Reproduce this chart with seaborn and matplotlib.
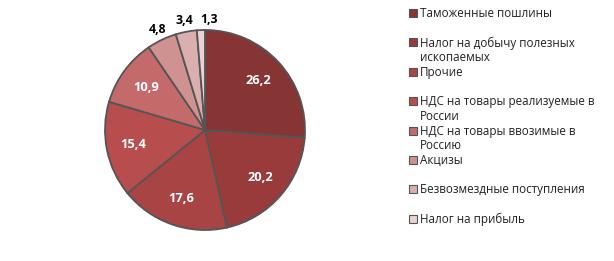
import numpy as np
import matplotlib
matplotlib.use('Agg')
import matplotlib.pyplot as plt
from matplotlib.patches import Rectangle
import seaborn as sns

categories = ['Таможенные пошлины', 'Налог на добычу полезных\nископаемых', 'Прочие',
              'НДС на товары реализуемые в\nРоссии', 'НДС на товары ввозимые в\nРоссию',
              'Акцизы', 'Безвозмездные поступления', 'Налог на прибыль']
values = [26.2, 20.2, 17.6, 15.4, 10.9, 4.8, 3.4, 1.3]
value_labels = ['26,2', '20,2', '17,6', '15,4', '10,9', '4,8', '3,4', '1,3']
colors = ['#863434', '#993b3b', '#a84444', '#b84d4d', '#c56a6a', '#d09191', '#dbafaf', '#ead2d2']

sns.set_style('white')
plt.rcParams['font.family'] = ['Open Sans', 'DejaVu Sans']

fig = plt.figure(figsize=(6.14, 2.61), dpi=100)
ax = fig.add_axes([105 / 614, 31 / 261, 200 / 614, 200 / 261])

wedges, _ = ax.pie(values, colors=sns.color_palette(colors), startangle=90, counterclock=False,
                   wedgeprops=dict(edgecolor='#555555', linewidth=1.3))
ax.set_xlim(-1.0, 1.0)
ax.set_ylim(-1.0, 1.0)
ax.set_aspect('equal')

# Value labels: white inside big slices, black outside small ones
for w, lab, v in zip(wedges, value_labels, values):
    ang = np.deg2rad((w.theta1 + w.theta2) / 2)
    ha = 'center'
    if v > 8:
        r, col, fs = 0.73, 'white', 9.3
    else:
        r, col, fs = 1.11, 'black', 8.8
        if v < 2:
            # tiny slice: push label right so it clears its neighbour
            ha = 'left'
    ax.text(r * np.cos(ang), r * np.sin(ang), lab, ha=ha, va='center',
            color=col, fontsize=fs, fontweight='bold')

# Legend drawn by hand to keep fixed row spacing
y0 = 13
for i, (cat, c) in enumerate(zip(categories, colors)):
    y = y0 + i * 29.4
    fig.patches.append(Rectangle((409 / 614, 1 - (y + 4) / 261), 8 / 614, 8 / 261,
                                 transform=fig.transFigure, facecolor=c,
                                 edgecolor='#555555', linewidth=0.8))
    fig.text(420 / 614, 1 - (y - 6) / 261, cat, ha='left', va='top', fontsize=8.4,
             color='#222222', linespacing=1.15)

fig.savefig('out.png', dpi=100)
